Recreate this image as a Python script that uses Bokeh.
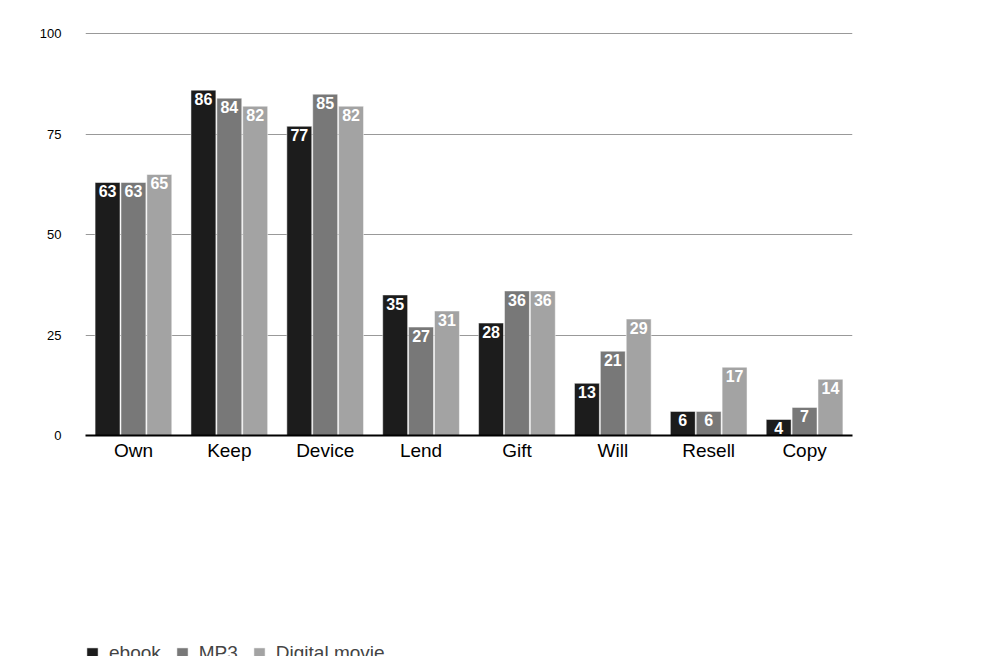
from bokeh.embed import file_html
from bokeh.resources import INLINE
from bokeh.plotting import figure
from bokeh.models import ColumnDataSource, Range1d, Legend, LegendItem, Title
from bokeh.transform import dodge
from bokeh.core.properties import value

categories = ["Own", "Keep", "Device", "Lend", "Gift", "Will", "Resell", "Copy"]
ebook = [63, 86, 77, 35, 28, 13, 6, 4]
mp3 = [63, 84, 85, 27, 36, 21, 6, 7]
movie = [65, 82, 82, 31, 36, 29, 17, 14]
series = [("ebook", ebook, "#1c1c1c", -0.27),
          ("MP3", mp3, "#787878", 0.0),
          ("Digital movie", movie, "#a3a3a3", 0.27)]

p = figure(x_range=categories, y_range=Range1d(0, 100.6),
           frame_width=767, frame_height=404,
           output_backend="svg", toolbar_location=None,
           min_border_left=85, min_border_right=124, min_border_top=31, min_border_bottom=10)
p.outline_line_color = None
p.xgrid.grid_line_color = None
p.ygrid.grid_line_color = "#999999"
p.ygrid.grid_line_width = 1.2
p.yaxis.ticker = [0, 25, 50, 75, 100]
p.yaxis.axis_line_color = None
p.yaxis.major_tick_line_color = None
p.yaxis.minor_tick_line_color = None
p.yaxis.major_label_text_font_size = "13px"
p.yaxis.major_label_text_font = "Liberation Sans"
p.yaxis.major_label_text_color = "black"
p.yaxis.major_label_standoff = 18
p.xaxis.axis_line_color = "black"
p.xaxis.axis_line_width = 2
p.xaxis.major_tick_line_color = None
p.xaxis.major_tick_out = 0
p.xaxis.major_label_text_font_size = "19px"
p.xaxis.major_label_text_font = "Liberation Sans"
p.xaxis.major_label_text_color = "black"
p.xaxis.major_label_standoff = 4

items = []
for name, vals, color, off in series:
    src = ColumnDataSource(dict(x=categories, y=vals, t=[str(v) for v in vals]))
    r = p.vbar(x=dodge("x", off, range=p.x_range), top="y", width=0.26, source=src,
               color=color, line_color="white", line_width=0.5)
    p.text(x=dodge("x", off, range=p.x_range), y="y", text="t", source=src,
           text_color="white", text_font=value("Liberation Sans"), text_font_style="bold",
           text_font_size="16px", text_align="center", text_baseline="top", y_offset=3)
    items.append(LegendItem(label=name, renderers=[r]))

legend = Legend(items=items, orientation="horizontal", location="left",
                label_text_font="Liberation Sans", label_text_font_size="19px",
                glyph_width=14, glyph_height=14, spacing=14, label_standoff=10,
                margin=0, padding=8, background_fill_alpha=0, border_line_color=None)
p.add_layout(legend, "below")

p.add_layout(Title(text="Figure 5.5", text_font="Noto Sans", text_font_style="bold",
                   text_font_size="21px", align="left", offset=-8, standoff=18), "below")
p.add_layout(Title(text="Percentage of respondents who believe the short notice confers rights",
                   text_font="Liberation Serif", text_font_style="normal",
                   text_font_size="23px", align="left", offset=-8, standoff=4), "below")

open("out.html", "w").write(file_html(p, INLINE))
